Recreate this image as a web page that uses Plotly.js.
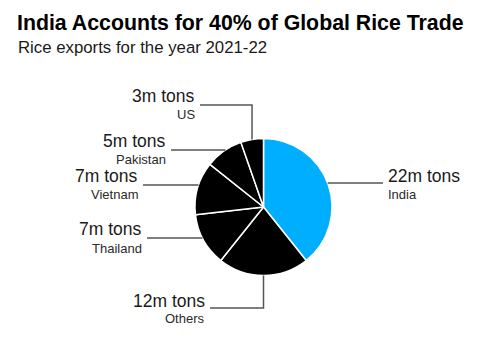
<!DOCTYPE html>
<html>
<head>
<meta charset="utf-8">
<script src="https://cdn.plot.ly/plotly-3.0.1.min.js"></script>
<style>html,body{margin:0;padding:0;background:#fff;}#chart{width:485px;height:360px;}</style>
</head>
<body>
<div id="chart"></div>
<script>
// ---- data ----
const categories = ["India", "Others", "Thailand", "Vietnam", "Pakistan", "US"];
const exportsMt = [22, 12, 7, 7, 5, 3];
const valueLabels = ["22m tons", "12m tons", "7m tons", "7m tons", "5m tons", "3m tons"];
const sliceColors = ["#00AEFF", "#000000", "#000000", "#000000", "#000000", "#000000"];
const titleText = "India Accounts for 40% of Global Rice Trade";
const subtitleText = "Rice exports for the year 2021-22";

// ---- layout config (pixels) ----
const W = 485, H = 360;
const cx = 263.5, cy = 207, R = 68.5;
const labelCfg = {
  India:    {lineY: 183, endX: 383, side: "right", vertical: false, valY: 176,   nameY: 194},
  Others:   {lineY: 308, endX: 210, side: "left",  vertical: true,  valY: 300.5, nameY: 318.5},
  Thailand: {lineY: 238, endX: 147, side: "left",  vertical: false, valY: 229.5, nameY: 248.5},
  Vietnam:  {lineY: 185, endX: 143, side: "left",  vertical: false, valY: 175.5, nameY: 194},
  Pakistan: {lineY: 150, endX: 171, side: "left",  vertical: false, valY: 141,   nameY: 159},
  US:       {lineY: 105, endX: 200, side: "left",  vertical: true,  valY: 96,    nameY: 114}
};

const px = x => x / W;
const py = y => 1 - y / H;
const FONT = "Liberation Sans, Arial, sans-serif";

const total = exportsMt.reduce((a, b) => a + b, 0);
const shapes = [];
const annotations = [];
let cum = 0;
categories.forEach((cat, i) => {
  const mid = (cum + exportsMt[i] / 2) / total * 2 * Math.PI; // clockwise from top
  cum += exportsMt[i];
  const ex = cx + R * Math.sin(mid);
  const ey = cy - R * Math.cos(mid);
  const c = labelCfg[cat];
  let path;
  if (c.vertical) {
    path = `M ${px(ex)} ${py(ey)} L ${px(ex)} ${py(c.lineY)} L ${px(c.endX)} ${py(c.lineY)}`;
  } else {
    const dy = c.lineY - cy;
    const dx = Math.sqrt(Math.max(R * R - dy * dy, 0));
    const sx = c.side === "right" ? cx + dx : cx - dx;
    path = `M ${px(sx)} ${py(c.lineY)} L ${px(c.endX)} ${py(c.lineY)}`;
  }
  shapes.push({type: "path", xref: "paper", yref: "paper", path: path,
               line: {color: "#555555", width: 1.5}});
  const tx = c.side === "right" ? c.endX + 3 : c.endX - 3;
  const anchor = c.side === "right" ? "left" : "right";
  annotations.push({xref: "paper", yref: "paper", x: px(tx), y: py(c.valY),
    xanchor: anchor, yanchor: "middle", showarrow: false, text: valueLabels[i],
    font: {family: FONT, size: 17.5, color: "#1a1a1a"}});
  annotations.push({xref: "paper", yref: "paper", x: px(tx), y: py(c.nameY),
    xanchor: anchor, yanchor: "middle", showarrow: false, text: cat,
    font: {family: FONT, size: 13, color: "#2a2a2a"}});
});

annotations.push({xref: "paper", yref: "paper", x: px(15), y: py(22.5), xanchor: "left", yanchor: "middle",
  showarrow: false, text: "<b>" + titleText + "</b>",
  font: {family: FONT, size: 21.3, color: "#000000"}});
annotations.push({xref: "paper", yref: "paper", x: px(16), y: py(48), xanchor: "left", yanchor: "middle",
  showarrow: false, text: subtitleText,
  font: {family: FONT, size: 16.8, color: "#1a1a1a"}});

const trace = {
  type: "pie",
  labels: categories,
  values: exportsMt,
  sort: false,
  direction: "clockwise",
  rotation: 0,
  textinfo: "none",
  hoverinfo: "none",
  marker: {colors: sliceColors, line: {color: "#ffffff", width: 1.5}},
  domain: {x: [px(cx - R), px(cx + R)], y: [py(cy + R), py(cy - R)]},
  showlegend: false
};

Plotly.newPlot("chart", [trace], {
  width: W, height: H,
  margin: {l: 0, r: 0, t: 0, b: 0},
  paper_bgcolor: "#ffffff",
  plot_bgcolor: "#ffffff",
  showlegend: false,
  shapes: shapes,
  annotations: annotations
}, {displayModeBar: false, staticPlot: true});
</script>
</body>
</html>
